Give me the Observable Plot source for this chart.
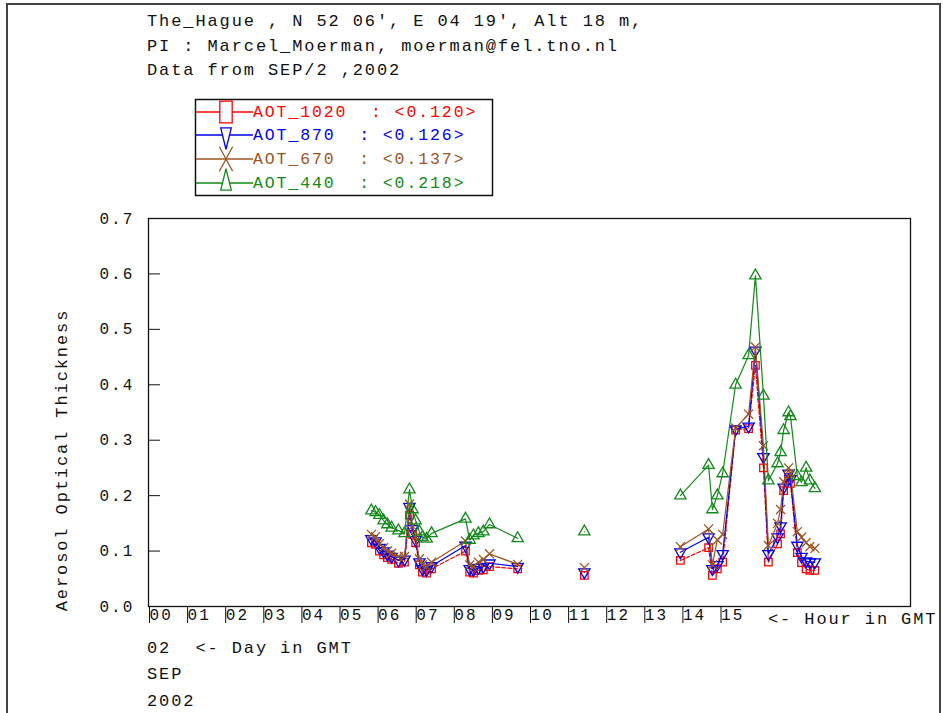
<!DOCTYPE html>
<html><head><meta charset="utf-8">
<script src="https://cdn.jsdelivr.net/npm/d3@7"></script>
<script src="https://cdn.jsdelivr.net/npm/@observablehq/plot@0.6"></script>
<style>
html,body{margin:0;padding:0;background:#fff;}
#wrap{position:relative;width:943px;height:713px;overflow:hidden;background:#fff;}
#chart,#overlay{position:absolute;left:0;top:0;}
#overlay{pointer-events:none;}
</style></head><body>
<div id="wrap"><div id="chart"></div><svg id="overlay" width="943" height="713"></svg></div>
<script>
// ---- data ----
const hours = [5.85, 5.96, 6.06, 6.17, 6.27, 6.38, 6.56, 6.72, 6.85, 6.93, 7.01, 7.11, 7.19, 7.30, 7.43, 8.32, 8.43, 8.53, 8.66, 8.79, 8.95, 9.69,
  11.44,
  13.96, 14.70, 14.80, 14.93, 15.07, 15.41, 15.75, 15.93, 16.14, 16.27, 16.51, 16.59, 16.67, 16.80, 16.85, 17.03, 17.14, 17.26, 17.36, 17.49];
const aot1020 = [0.115, 0.112, 0.100, 0.093, 0.088, 0.085, 0.078, 0.080, 0.165, 0.130, 0.115, 0.075, 0.062, 0.060, 0.068, 0.100, 0.062, 0.060, 0.065, 0.066, 0.072, 0.068,
  0.056,
  0.083, 0.106, 0.056, 0.068, 0.080, 0.318, 0.321, 0.435, 0.250, 0.080, 0.113, 0.131, 0.209, 0.233, 0.222, 0.097, 0.079, 0.068, 0.065, 0.065];
const aot870 = [0.122, 0.118, 0.106, 0.100, 0.094, 0.090, 0.083, 0.085, 0.180, 0.140, 0.120, 0.080, 0.068, 0.066, 0.073, 0.110, 0.068, 0.066, 0.070, 0.072, 0.078, 0.072,
  0.062,
  0.098, 0.125, 0.068, 0.075, 0.095, 0.320, 0.325, 0.462, 0.270, 0.095, 0.125, 0.145, 0.215, 0.240, 0.230, 0.110, 0.090, 0.082, 0.080, 0.080];
const aot670 = [0.130, 0.126, 0.113, 0.106, 0.100, 0.096, 0.090, 0.090, 0.185, 0.145, 0.125, 0.086, 0.075, 0.072, 0.080, 0.118, 0.075, 0.072, 0.080, 0.085, 0.095, 0.076,
  0.070,
  0.108, 0.140, 0.075, 0.120, 0.130, 0.322, 0.347, 0.468, 0.290, 0.110, 0.150, 0.175, 0.225, 0.250, 0.240, 0.135, 0.125, 0.115, 0.108, 0.105];
const aot440 = [0.173, 0.170, 0.165, 0.155, 0.148, 0.142, 0.137, 0.132, 0.211, 0.175, 0.155, 0.135, 0.125, 0.122, 0.132, 0.158, 0.120, 0.128, 0.132, 0.135, 0.148, 0.123,
  0.135,
  0.200, 0.255, 0.175, 0.200, 0.240, 0.400, 0.453, 0.597, 0.380, 0.227, 0.258, 0.278, 0.318, 0.350, 0.343, 0.235, 0.224, 0.250, 0.227, 0.213];

const seriesNames = ["AOT_1020", "AOT_870", "AOT_670", "AOT_440"];
const seriesMeans = ["0.120", "0.126", "0.137", "0.218"];
const seriesColors = ["#ff0000", "#0000ee", "#9c5424", "#12891a"];
const yTicks = [0.0, 0.1, 0.2, 0.3, 0.4, 0.5, 0.6, 0.7];
const xTicks = [0, 1, 2, 3, 4, 5, 6, 7, 8, 9, 10, 11, 12, 13, 14, 15];
const headerLines = ["The_Hague , N 52 06', E 04 19', Alt 18 m,", "PI : Marcel_Moerman, moerman@fel.tno.nl", "Data from SEP/2 ,2002"];
const footerLines = ["02  <- Day in GMT", "SEP", "2002"];
const yLabel = "Aerosol Optical Thickness";
const xSuffix = "<- Hour in GMT";

// ---- build table ----
let seg = 0;
const segIds = hours.map((h, i) => (i > 0 && h - hours[i - 1] > 1 ? ++seg : seg));
const allValues = [aot1020, aot870, aot670, aot440];
const rows = [];
allValues.forEach((vals, s) => vals.forEach((v, i) => rows.push({s, series: seriesNames[s], hour: hours[i], aot: v, seg: segIds[i]})));

const triDown = {
  draw(context, size) {
    const y = -Math.sqrt(size / (Math.sqrt(3) * 3));
    context.moveTo(0, -y * 2);
    context.lineTo(-Math.sqrt(3) * y, y);
    context.lineTo(Math.sqrt(3) * y, y);
    context.closePath();
  }
};
const symbols = ["square", triDown, "times", "triangle"];
const dashes = ["4,2", null, null, null];

const FONT = "'Liberation Mono', 'DejaVu Sans Mono', monospace";
const marks = [Plot.frame({stroke: "#111", strokeWidth: 1.3})];
[0, 1, 2, 3].forEach(s => {
  const data = rows.filter(r => r.s === s);
  marks.push(Plot.line(data, {x: "hour", y: "aot", z: "seg", stroke: seriesColors[s], strokeWidth: 1.2, strokeDasharray: dashes[s]}));
  marks.push(Plot.dot(data, {x: "hour", y: "aot", symbol: symbols[s], stroke: seriesColors[s], fill: "none", r: 4.2, strokeWidth: 1.3}));
});
marks.push(Plot.axisY({ticks: yTicks, tickFormat: d3.format(".1f"), tickSize: -12, tickPadding: 26, label: null, stroke: "#111"}));
marks.push(Plot.axisX({ticks: xTicks, tickFormat: d3.format("02d"), tickSize: 17, tickPadding: -15, textAnchor: "start", dx: 1, label: null, stroke: "#111"}));

const chart = Plot.plot({
  width: 943, height: 713,
  marginLeft: 148, marginRight: 33, marginTop: 218, marginBottom: 107,
  x: {domain: [0, 20]},
  y: {domain: [0, 0.7]},
  style: {fontFamily: FONT, fontSize: "16px", letterSpacing: "2.1px", color: "#111", background: "transparent", overflow: "visible"},
  marks
});
document.getElementById("chart").append(chart);

// ---- overlay texts, legend, border ----
const ov = d3.select("#overlay").style("font-family", FONT).style("font-size", "17px").style("letter-spacing", "1.9px");
ov.append("path").attr("d", "M7,713V4H940V713").attr("fill", "none").attr("stroke", "#444").attr("stroke-width", 2);
headerLines.forEach((t, i) => ov.append("text").attr("x", 147).attr("y", 26 + i * 24.5).attr("fill", "#111").text(t));

const lg = ov.append("g");
lg.append("rect").attr("x", 195.5).attr("y", 99.5).attr("width", 297).attr("height", 96).attr("fill", "white").attr("stroke", "#111").attr("stroke-width", 1.5);
const rowY = [112, 135, 159, 183];
const legendScale = [[1.6, 2.8], [0.9, 2.1], [1.4, 2.6], [0.9, 2.1]];
seriesNames.forEach((name, s) => {
  const yc = rowY[s];
  lg.append("line").attr("x1", 196).attr("x2", 253).attr("y1", yc).attr("y2", yc).attr("stroke", seriesColors[s]).attr("stroke-width", 1.3);
  const sym = typeof symbols[s] === "string" ? {square: d3.symbolSquare, times: d3.symbolTimes, triangle: d3.symbolTriangle}[symbols[s]] : symbols[s];
  const [sx, sy] = legendScale[s];
  lg.append("path").attr("d", d3.symbol(sym, 60)()).attr("transform", `translate(226,${yc}) scale(${sx},${sy})`)
    .attr("fill", s === 2 ? "none" : "white").attr("stroke", seriesColors[s]).attr("stroke-width", 1.3).attr("vector-effect", "non-scaling-stroke");
  lg.append("text").attr("x", 253).attr("y", yc + 5).attr("fill", seriesColors[s]).attr("font-size", "16.5px")
    .style("white-space", "pre").text(`${name}  : <${seriesMeans[s]}>`);
});

ov.append("text").attr("transform", "translate(67,460) rotate(-90)").attr("text-anchor", "middle").attr("fill", "#111").text(yLabel);
ov.append("text").attr("x", 768).attr("y", 624).attr("fill", "#111").text(xSuffix);
const footY = [653, 679, 706];
footerLines.forEach((t, i) => ov.append("text").attr("x", 147).attr("y", footY[i]).attr("fill", "#111").style("white-space", "pre").text(t));
</script>
</body></html>
